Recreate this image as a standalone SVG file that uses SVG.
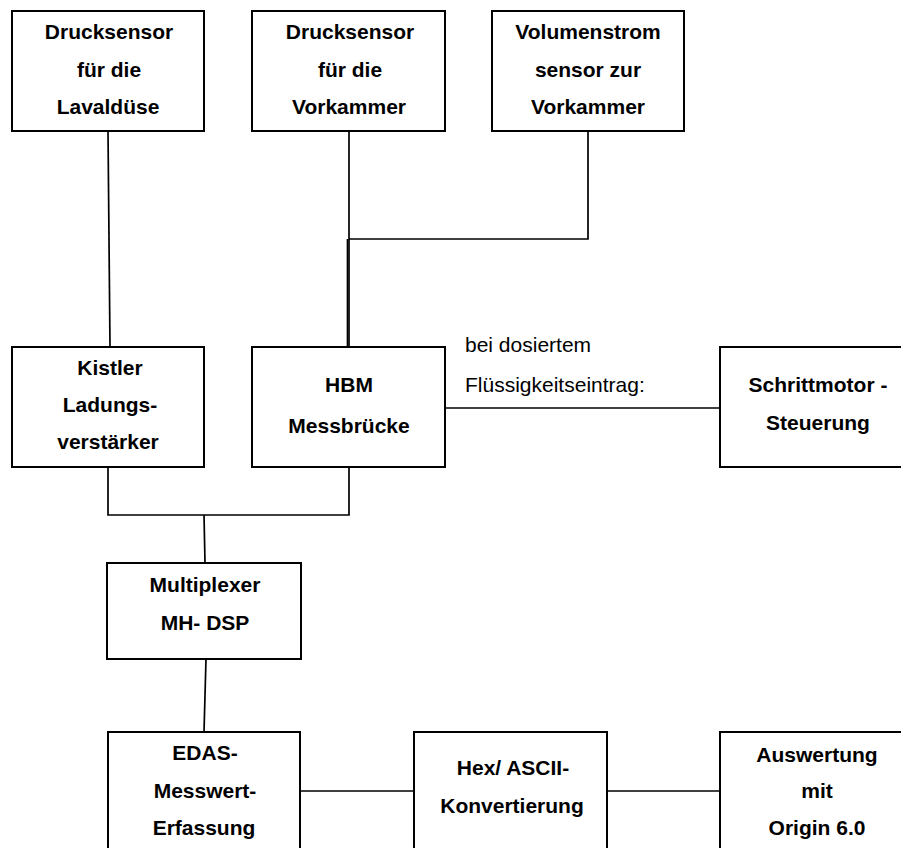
<svg xmlns="http://www.w3.org/2000/svg" width="901" height="848" viewBox="0 0 901 848">
<style>
.box{fill:#fff;stroke:#000;stroke-width:2}
.t{font-family:"Liberation Sans",Arial,sans-serif;font-size:21px;font-weight:bold;text-anchor:middle;fill:#000}
.r{font-family:"Liberation Sans",Arial,sans-serif;font-size:21px;fill:#000}
.c{fill:none;stroke:#000;stroke-width:1.7}
</style>
<rect width="901" height="848" fill="#fff"/>
<g id="connectors">
<path class="c" d="M108,131 L110,347"/>
<path class="c" d="M349,131 L349,347"/>
<path class="c" d="M347.5,239 L347.5,347"/>
<path class="c" d="M349,239 L588,239 L588,131"/>
<path class="c" d="M445,408 L720,408"/>
<path class="c" d="M108,467 L108,515 L349,515 L349,467"/>
<path class="c" d="M204,515 L205,563"/>
<path class="c" d="M206,659 L204,732"/>
<path class="c" d="M300,791 L414,791"/>
<path class="c" d="M607,791 L720,791"/>
</g>
<g id="n1"><rect class="box" x="12" y="11" width="192" height="120"/>
<text class="t" x="109" y="39">Drucksensor</text><text class="t" x="109" y="77">für die</text><text class="t" x="108" y="114">Lavaldüse</text></g>
<g id="n2"><rect class="box" x="252" y="11" width="193" height="120"/>
<text class="t" x="350" y="39">Drucksensor</text><text class="t" x="350" y="77">für die</text><text class="t" x="349" y="114">Vorkammer</text></g>
<g id="n3"><rect class="box" x="492" y="11" width="192" height="120"/>
<text class="t" x="588" y="39">Volumenstrom</text><text class="t" x="588" y="77">sensor zur</text><text class="t" x="588" y="114">Vorkammer</text></g>
<g id="n4"><rect class="box" x="12" y="347" width="192" height="120"/>
<text class="t" x="110" y="375">Kistler</text><text class="t" x="110" y="412">Ladungs-</text><text class="t" x="108" y="449">verstärker</text></g>
<g id="n5"><rect class="box" x="252" y="347" width="193" height="120"/>
<text class="t" x="349" y="392">HBM</text><text class="t" x="349" y="433">Messbrücke</text></g>
<g id="lbl"><text class="r" x="465" y="352">bei dosiertem</text><text class="r" x="465" y="392">Flüssigkeitseintrag:</text></g>
<g id="n6"><rect class="box" x="720" y="347" width="196" height="120"/>
<text class="t" x="818" y="392">Schrittmotor -</text><text class="t" x="818" y="430">Steuerung</text></g>
<g id="n7"><rect class="box" x="107" y="563" width="194" height="96"/>
<text class="t" x="205" y="592">Multiplexer</text><text class="t" x="205" y="630">MH- DSP</text></g>
<g id="n8"><rect class="box" x="108" y="732" width="192" height="130"/>
<text class="t" x="205" y="760">EDAS-</text><text class="t" x="205" y="798">Messwert-</text><text class="t" x="204" y="835">Erfassung</text></g>
<g id="n9"><rect class="box" x="414" y="732" width="193" height="130"/>
<text class="t" x="513" y="775">Hex/ ASCII-</text><text class="t" x="512" y="813">Konvertierung</text></g>
<g id="n10"><rect class="box" x="720" y="732" width="196" height="130"/>
<text class="t" x="817" y="762">Auswertung</text><text class="t" x="817" y="798">mit</text><text class="t" x="817" y="835">Origin 6.0</text></g>
</svg>
